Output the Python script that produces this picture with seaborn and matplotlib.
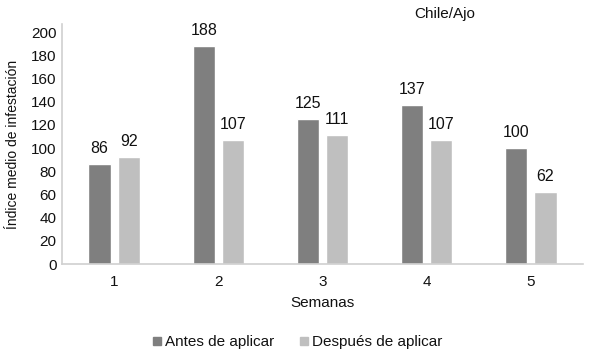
import matplotlib
matplotlib.use("Agg")
import matplotlib.pyplot as plt
import seaborn as sns
import pandas as pd
from matplotlib.lines import Line2D

semanas = ["1", "2", "3", "4", "5"]
antes = [86, 188, 125, 137, 100]
despues = [92, 107, 111, 107, 62]
series = ["Antes de aplicar", "Después de aplicar"]
colors = ["#7f7f7f", "#bfbfbf"]

df = pd.DataFrame({
    "Semanas": semanas * 2,
    "valor": antes + despues,
    "serie": [series[0]] * 5 + [series[1]] * 5,
})

sns.set_style("white")
plt.rcParams["font.family"] = ["Liberation Sans", "DejaVu Sans"]

fig = plt.figure(figsize=(5.89, 3.56), dpi=100)
ax = fig.add_axes([62 / 589, (356 - 264) / 356, (583 - 62) / 589, (264 - 24) / 356])

sns.barplot(data=df, x="Semanas", y="valor", hue="serie", palette=colors,
            ax=ax, width=0.56, gap=0.24, legend=False, saturation=1)

for cont in ax.containers:
    ax.bar_label(cont, fmt="%d", padding=6, fontsize=11.5, color="#111111")

ax.set_ylim(0, 207)
ax.set_xlim(-0.5, 4.5)
ax.set_yticks(range(0, 201, 20))
ax.tick_params(axis="both", labelsize=11, colors="#111111", length=0)
ax.tick_params(axis="x", pad=8)
ax.tick_params(axis="y", pad=4)
for s in ["top", "right"]:
    ax.spines[s].set_visible(False)
for s in ["left", "bottom"]:
    ax.spines[s].set_color("#d0d0d0")
    ax.spines[s].set_linewidth(1.2)

ax.set_xlabel("Semanas", fontsize=11, color="#111111", labelpad=5)
ax.set_ylabel("Índice medio de infestación", fontsize=10, color="#111111", labelpad=8)

fig.text(445 / 589, 1 - 14 / 356, "Chile/Ajo", ha="center", va="center", fontsize=11, color="#111111")

handles = [Line2D([], [], marker="s", linestyle="", markersize=6, color=c) for c in colors]
fig.legend(handles, series, loc="center", bbox_to_anchor=(297 / 589, 1 - 342 / 356),
           ncol=2, frameon=False, fontsize=11, handletextpad=0.15, handlelength=0.7,
           columnspacing=1.6, labelcolor="#111111")

fig.savefig("out.png", dpi=100)
